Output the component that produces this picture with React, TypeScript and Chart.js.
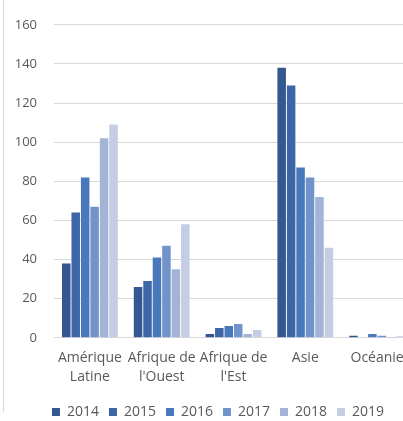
import React, { useEffect, useRef } from "react";
import { Chart, registerables } from "chart.js";

Chart.register(...registerables);

const categories: (string | string[])[] = [
  ["Amérique", "Latine"],
  ["Afrique de", "l'Ouest"],
  ["Afrique de", "l'Est"],
  "Asie",
  "Océanie",
];
const years = ["2014", "2015", "2016", "2017", "2018", "2019"];
const v2014 = [38, 26, 2, 138, 1];
const v2015 = [64, 29, 5, 129, 0.3];
const v2016 = [82, 41, 6, 87, 2];
const v2017 = [67, 47, 7, 82, 1];
const v2018 = [102, 35, 2, 72, 0.2];
const v2019 = [109, 58, 4, 46, 0.8];
const colors = ["#34578F", "#3D66A6", "#4A78BC", "#7193CB", "#A3B4D7", "#C4CDE3"];
const yTicks = [0, 20, 40, 60, 80, 100, 120, 140, 160];

const legendShift = {
  id: "legendShift",
  afterLayout(chart: any) {
    if (chart.legend) {
      chart.legend.left += 10;
      chart.legend.right += 10;
    }
  },
};

export default function App() {
  const ref = useRef<HTMLCanvasElement>(null);
  useEffect(() => {
    const series = [v2014, v2015, v2016, v2017, v2018, v2019];
    const font = { family: "'Open Sans', sans-serif", size: 14, lineHeight: 1.4 };
    const chart = new Chart(ref.current!, {
      type: "bar",
      data: {
        labels: categories,
        datasets: series.map((d, i) => ({
          label: years[i],
          data: d,
          backgroundColor: colors[i],
          borderWidth: 0,
          categoryPercentage: 0.79,
          barPercentage: 0.9,
        })),
      },
      plugins: [legendShift],
      options: {
        animation: false,
        responsive: true,
        maintainAspectRatio: false,
        layout: { padding: { top: 13, left: 0, right: 26, bottom: 0 } },
        plugins: {
          tooltip: { enabled: false },
          legend: {
            position: "bottom",
            labels: {
              boxWidth: 8,
              boxHeight: 8,
              color: "#595959",
              font: { family: "'Open Sans', sans-serif", size: 14 },
              padding: 10,
            },
          },
        },
        scales: {
          x: {
            grid: { display: false },
            border: { display: false },
            ticks: { color: "#595959", font, padding: 2, maxRotation: 0, autoSkip: false },
            afterFit: (axis: any) => {
              axis.height += 6;
            },
          },
          y: {
            min: 0,
            max: 160,
            afterBuildTicks: (axis: any) => {
              axis.ticks = yTicks.map((v) => ({ value: v }));
            },
            afterFit: (axis: any) => {
              axis.width = 51;
            },
            grid: { color: "#D9D9D9", lineWidth: 1, drawTicks: false },
            border: { display: false },
            ticks: { color: "#595959", font: { family: "'Open Sans', sans-serif", size: 13 }, padding: 17 },
          },
        },
      },
    });
    return () => chart.destroy();
  }, []);
  return (
    <div
      style={{
        position: "fixed",
        left: 0,
        top: 0,
        width: 403,
        height: 421,
        overflow: "hidden",
        background: "#fff",
      }}
    >
      <div
        style={{
          position: "absolute",
          left: 3,
          top: 0,
          width: 1,
          height: 412,
          background: "#D9D9D9",
        }}
      />
      <div style={{ position: "absolute", left: 3, top: 0, width: 436, height: 429 }}>
        <canvas ref={ref} />
      </div>
    </div>
  );
}
